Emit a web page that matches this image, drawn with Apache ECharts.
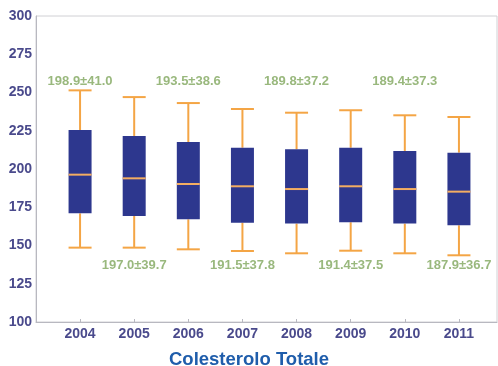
<!DOCTYPE html>
<html>
<head>
<meta charset="utf-8">
<script src="https://cdn.jsdelivr.net/npm/echarts@6/dist/echarts.min.js"></script>
<style>
  html, body { margin: 0; padding: 0; background: #ffffff; }
  #chart { width: 498px; height: 366px; }
</style>
</head>
<body>
<div id="chart"></div>
<script>
// Total cholesterol by year: whiskers, quartiles and median
const years = ['2004', '2005', '2006', '2007', '2008', '2009', '2010', '2011'];
const whiskerLow  = [148.6, 148.6, 147.5, 146.4, 144.9, 146.6, 144.9, 143.6];
const q1          = [171.0, 169.3, 167.1, 164.9, 164.3, 165.2, 164.3, 163.2];
const median      = [196.3, 193.9, 190.2, 188.7, 186.9, 188.7, 186.9, 185.2];
const q3          = [225.5, 221.6, 217.6, 213.9, 212.9, 213.9, 211.8, 210.7];
const whiskerHigh = [251.4, 247.0, 243.1, 239.2, 236.8, 238.4, 235.1, 234.0];

// Mean ± standard deviation annotations
const means = [198.9, 197.0, 193.5, 191.5, 189.8, 191.4, 189.4, 187.9];
const sds   = [41.0, 39.7, 38.6, 37.8, 37.2, 37.5, 37.3, 36.7];

const yTicks = { min: 100, max: 300, interval: 25 };

const FONT = 'Liberation Sans, Arial, sans-serif';
const AXIS_TEXT = '#4a4a8c';
const BOX_FILL = '#2d378e';
const WHISKER = '#f4a545';
const MEDIAN = '#f3ad62';
const NOTE = '#7fa65c';

// annotation rows: above the boxes for even years, below for odd years
const NOTE_HIGH = 257;
const NOTE_LOW = 137;

const boxData = years.map((y, i) => [i, whiskerLow[i], q1[i], median[i], q3[i], whiskerHigh[i]]);
const noteData = years.map((y, i) => ({
  value: [i, i % 2 === 0 ? NOTE_HIGH : NOTE_LOW],
  text: means[i].toFixed(1) + '±' + sds[i].toFixed(1)
}));

const chart = echarts.init(document.getElementById('chart'), null, { renderer: 'canvas' });

chart.setOption({
  backgroundColor: '#ffffff',
  animation: false,
  title: {
    text: 'Colesterolo Totale',
    left: 'center',
    top: 345,
    textStyle: { color: '#1f5dab', fontSize: 18.5, fontWeight: 'bold', fontFamily: FONT }
  },
  grid: [
    // data area: one band per year
    { left: 53, right: 12, top: 16, bottom: 44 },
    // outer frame with the value axis
    { left: 36, right: 1, top: 16, bottom: 44, show: true, borderColor: '#d0d0d4', borderWidth: 1, backgroundColor: 'transparent' }
  ],
  xAxis: [
    {
      gridIndex: 0,
      type: 'category',
      data: years,
      boundaryGap: true,
      axisLine: { show: false },
      axisTick: { show: true, inside: true, alignWithLabel: true, length: 3, lineStyle: { color: '#b8b8c0' } },
      axisLabel: { color: AXIS_TEXT, fontSize: 14, fontWeight: 'bold', fontFamily: FONT, margin: 5 },
      splitLine: { show: false }
    },
    {
      gridIndex: 1,
      type: 'value',
      min: 0, max: 1,
      axisLine: { show: true, lineStyle: { color: '#b8b8c0', width: 1 } },
      axisTick: { show: false },
      axisLabel: { show: false },
      splitLine: { show: false }
    }
  ],
  yAxis: [
    {
      gridIndex: 0,
      type: 'value',
      min: yTicks.min, max: yTicks.max, interval: yTicks.interval,
      show: false,
      splitLine: { show: false }
    },
    {
      gridIndex: 1,
      type: 'value',
      min: yTicks.min, max: yTicks.max, interval: yTicks.interval,
      axisLine: { show: true, lineStyle: { color: '#b8b8c0', width: 1 } },
      axisTick: { show: false },
      axisLabel: { color: AXIS_TEXT, fontSize: 14, fontWeight: 'bold', fontFamily: FONT, margin: 4 },
      splitLine: { show: false }
    }
  ],
  series: [
    {
      type: 'custom',
      xAxisIndex: 0,
      yAxisIndex: 0,
      data: boxData,
      encode: { x: 0, y: [1, 2, 3, 4, 5] },
      renderItem: function (params, api) {
        const idx = api.value(0);
        const lo = api.coord([idx, api.value(1)]);
        const b1 = api.coord([idx, api.value(2)]);
        const md = api.coord([idx, api.value(3)]);
        const b3 = api.coord([idx, api.value(4)]);
        const hi = api.coord([idx, api.value(5)]);
        const w = 23;
        const cx = lo[0];
        const half = w / 2;
        const wStyle = { stroke: WHISKER, lineWidth: 2 };
        return {
          type: 'group',
          children: [
            { type: 'line', shape: { x1: cx, y1: hi[1], x2: cx, y2: b3[1] }, style: wStyle },
            { type: 'line', shape: { x1: cx, y1: b1[1], x2: cx, y2: lo[1] }, style: wStyle },
            { type: 'line', shape: { x1: cx - half, y1: hi[1], x2: cx + half, y2: hi[1] }, style: wStyle },
            { type: 'line', shape: { x1: cx - half, y1: lo[1], x2: cx + half, y2: lo[1] }, style: wStyle },
            { type: 'rect', shape: { x: cx - half, y: b3[1], width: w, height: b1[1] - b3[1] }, style: { fill: BOX_FILL } },
            { type: 'line', shape: { x1: cx - half, y1: md[1], x2: cx + half, y2: md[1] }, style: { stroke: MEDIAN, lineWidth: 2 } }
          ]
        };
      }
    },
    {
      type: 'scatter',
      xAxisIndex: 0,
      yAxisIndex: 0,
      symbolSize: 0,
      data: noteData,
      label: {
        show: true,
        position: 'inside',
        formatter: p => p.data.text,
        color: NOTE,
        fontSize: 13,
        fontWeight: 'bold',
        fontFamily: FONT
      },
      silent: true
    }
  ]
});
</script>
</body>
</html>
